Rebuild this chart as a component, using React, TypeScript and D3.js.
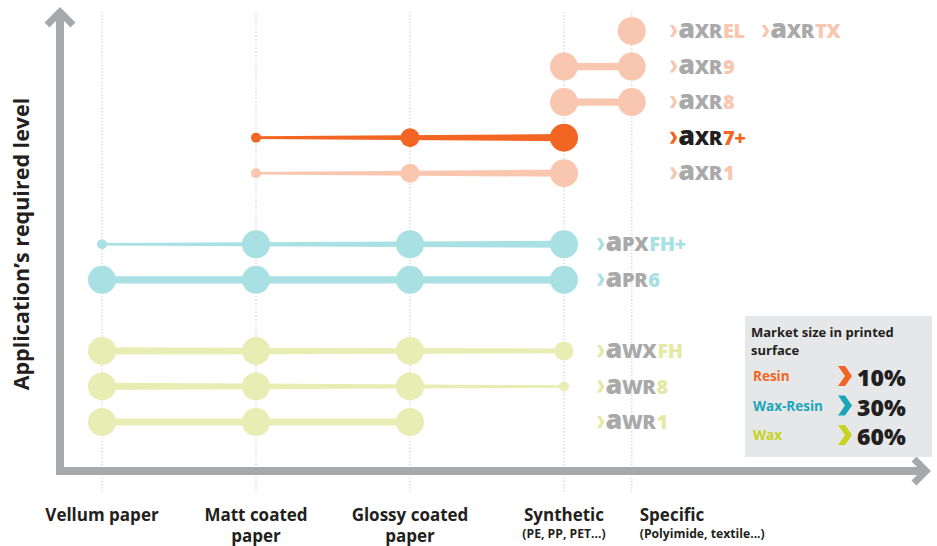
import React from "react";
import * as d3 from "d3";

// ---------- data ----------
const categories = ["Vellum paper", "Matt coated paper", "Glossy coated paper", "Synthetic", "Specific"];
const categoryLines = [["Vellum paper"], ["Matt coated", "paper"], ["Glossy coated", "paper"], ["Synthetic"], ["Specific"]];
const categoryNotes = ["", "", "", "(PE, PP, PET...)", "(Polyimide, textile...)"];
const categoryPos = [0, 1, 2, 3, 3.44];

const products = ["AXR EL / AXR TX", "AXR 9", "AXR 8", "AXR 7+", "AXR 1", "APX FH+", "APR 6", "AWX FH", "AWR 8", "AWR 1"];
const productSlot = [0, 1, 2, 3, 4, 6, 7, 9, 10, 11];
const productFamily = ["resin", "resin", "resin", "resinHi", "resin", "waxResin", "waxResin", "wax", "wax", "wax"];
// suitability level per category (0 = not suited, 1 small, 2 medium, 3 full)
const suitability = [
  [0, 0, 0, 0, 3],
  [0, 0, 0, 3, 3],
  [0, 0, 0, 3, 3],
  [0, 1, 2, 3, 0],
  [0, 1, 2, 3, 0],
  [1, 3, 3, 3, 0],
  [3, 3, 3, 3, 0],
  [3, 3, 3, 2, 0],
  [3, 3, 3, 1, 0],
  [3, 3, 3, 0, 0],
];
const labelParts = [
  [["a", "XR", "EL"], ["a", "XR", "TX"]],
  [["a", "XR", "9"]],
  [["a", "XR", "8"]],
  [["a", "XR", "7+"]],
  [["a", "XR", "1"]],
  [["a", "PX", "FH+"]],
  [["a", "PR", "6"]],
  [["a", "WX", "FH"]],
  [["a", "WR", "8"]],
  [["a", "WR", "1"]],
];

const legendTitle = ["Market size in printed", "surface"];
const legendNames = ["Resin", "Wax-Resin", "Wax"];
const legendShares = ["10%", "30%", "60%"];

// ---------- styles ----------
const FONT = "'Open Sans', 'Noto Sans', sans-serif";
const DARK = "#231F20";
const GRAY = "#A9A9AA";
const AXIS = "#A7A8AB";
const familyColor: Record<string, string> = {
  resin: "#F9C7B0",
  resinHi: "#F26522",
  waxResin: "#A8E0E4",
  wax: "#E8EDB4",
};
const legendColors = ["#F26522", "#1BA6B8", "#C6D321"];

export default function App() {
  const W = 937, H = 546;
  const x = d3.scaleLinear().domain([0, 3]).range([102, 564]);
  const y = d3.scaleLinear().domain([0, 11]).range([31, 422]);
  const rScale = d3.scaleLinear().domain([1, 3]).range([5, 14]);
  const wScale = d3.scaleLinear().domain([1, 3]).range([2.6, 7.2]);

  const connector = d3
    .area<{ x: number; y: number; w: number }>()
    .x((d) => d.x)
    .y0((d) => d.y - d.w / 2)
    .y1((d) => d.y + d.w / 2);

  const chevron = (cx: number, cy: number, w: number, h: number, t: number) => {
    const p = d3.path();
    p.moveTo(cx, cy - h / 2);
    p.lineTo(cx + t, cy - h / 2);
    p.lineTo(cx + w, cy);
    p.lineTo(cx + t, cy + h / 2);
    p.lineTo(cx, cy + h / 2);
    p.lineTo(cx + w - t, cy);
    p.closePath();
    return p.toString();
  };

  return (
    <svg width={W} height={H} style={{ position: "absolute", left: 0, top: 0, display: "block" }} fontFamily={FONT}>
      <rect width={W} height={H} fill="#fff" />
      {/* dotted grid lines */}
      {categoryPos.map((c, i) => (
        <line key={i} x1={x(c)} x2={x(c)} y1={12} y2={493} stroke="#D2D3D5" strokeWidth={1.3} strokeDasharray="1.3 2" />
      ))}

      {/* axes */}
      <line x1={60} x2={60} y1={12} y2={475} stroke={AXIS} strokeWidth={8} />
      <line x1={56} x2={925} y1={471} y2={471} stroke={AXIS} strokeWidth={8} />
      <polyline points="47,25 60,12 73,25" fill="none" stroke={AXIS} strokeWidth={7} strokeLinejoin="miter" />
      <polyline points="914,459 926,471 914,483" fill="none" stroke={AXIS} strokeWidth={7} strokeLinejoin="miter" />

      {/* rows */}
      {products.map((name, i) => {
        const color = familyColor[productFamily[i]];
        const cy = y(productSlot[i]);
        const pts = suitability[i]
          .map((lv, j) => ({ lv, j }))
          .filter((d) => d.lv > 0);
        const first = pts[0];
        const last = pts[pts.length - 1];
        const x0 = x(categoryPos[first.j]);
        const x1 = x(categoryPos[last.j]);
        const w0 = wScale(first.lv);
        const w1 = wScale(last.lv);
        const seg = pts.length > 1
          ? connector([
              { x: x0, y: cy, w: w0 },
              { x: x1, y: cy, w: w1 },
            ])
          : null;
        return (
          <g key={name}>
            {seg && <path d={seg!} fill={color} />}
            {pts.map((d) => (
              <circle key={d.j} cx={x(categoryPos[d.j])} cy={cy} r={rScale(d.lv)} fill={color} />
            ))}
          </g>
        );
      })}

      {/* product labels */}
      {products.map((name, i) => {
        const fam = productFamily[i];
        const isResin = fam === "resin" || fam === "resinHi";
        const color = familyColor[fam];
        const accent = fam === "resinHi" ? "#F26522" : fam === "wax" ? "#E4E9A6" : color;
        const prefixColor = fam === "resinHi" ? DARK : GRAY;
        const cy = y(productSlot[i]);
        const baseX = isResin ? x(categoryPos[4]) + 38 : x(categoryPos[3]) + 33;
        return (
          <g key={"lab" + name}>
            {labelParts[i].map((parts, k) => {
              const lx = baseX + k * 92;
              return (
                <g key={k}>
                  <path d={chevron(lx, cy, 7.5, 12, 3.8)} fill={accent} />
                  <text x={lx + 8.5} y={cy + 7.2} fontWeight={800} letterSpacing={-0.4}>
                    <tspan fill={prefixColor} fontSize={27}>{parts[0]}</tspan>
                    <tspan fill={prefixColor} fontSize={20}>{parts[1]}</tspan>
                    <tspan fill={accent} fontSize={20} dx={1}>{parts[2]}</tspan>
                  </text>
                </g>
              );
            })}
          </g>
        );
      })}

      {/* x category labels */}
      {categories.map((c, i) => {
        const left = i === 4;
        const cx = left ? x(categoryPos[i]) + 8 : x(categoryPos[i]);
        const anchor = left ? "start" : "middle";
        return (
          <g key={c} fill={DARK} fontWeight={700}>
            {categoryLines[i].map((ln, k) => (
              <text key={k} x={cx} y={521 + k * 21} textAnchor={anchor} fontSize={17}>{ln}</text>
            ))}
            {categoryNotes[i] && (
              <text x={cx} y={538} textAnchor={anchor} fontSize={12.2}>{categoryNotes[i]}</text>
            )}
          </g>
        );
      })}

      {/* y axis title */}
      <text transform="translate(29,244) rotate(-90)" textAnchor="middle" fontSize={21.5} fontWeight={700} fill={DARK}>
        Application’s required level
      </text>

      {/* legend */}
      <g>
        <rect x={745} y={316} width={187} height={141} fill="#E6E7E8" />
        {legendTitle.map((t, k) => (
          <text key={k} x={751} y={337 + k * 18} fontSize={13} fontWeight={700} fill={DARK}>{t}</text>
        ))}
        {legendNames.map((n, k) => {
          const cy = 376 + k * 29.5;
          return (
            <g key={n}>
              <text x={753} y={cy + 5} fontSize={13.5} fontWeight={700} fill={legendColors[k]}>{n}</text>
              <path d={chevron(838, cy, 14, 20, 7)} fill={legendColors[k]} />
              <text x={857} y={cy + 10} fontSize={23} fontWeight={800} fill={DARK}>{legendShares[k]}</text>
            </g>
          );
        })}
      </g>
    </svg>
  );
}
